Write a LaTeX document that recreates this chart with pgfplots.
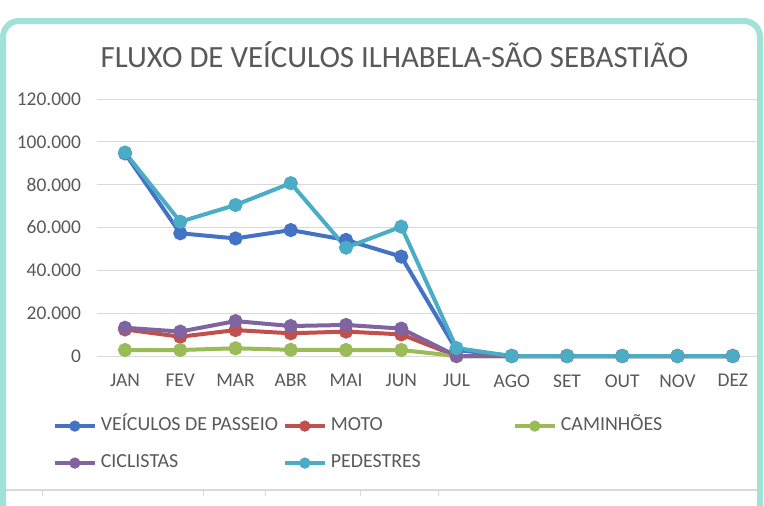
\documentclass[border=0pt]{standalone}
\usepackage{fontspec}
\setmainfont{Carlito}
\usepackage{pgfplots}
\pgfplotsset{compat=1.18}
\definecolor{cVei}{HTML}{4472C4}
\definecolor{cMoto}{HTML}{C0504D}
\definecolor{cCam}{HTML}{9BBB59}
\definecolor{cCic}{HTML}{8064A2}
\definecolor{cPed}{HTML}{4BACC6}
\definecolor{txt}{HTML}{595959}
\definecolor{frame}{RGB}{160,226,216}

\begin{document}
\begin{tikzpicture}
\useasboundingbox (0,0) rectangle (764bp,-506bp);
\clip (0,0) rectangle (764bp,-506bp);
\fill[white] (0,0) rectangle (764bp,-506bp);

\node[text=txt, font=\fontsize{31}{33}\selectfont] at (394.5bp,-55bp) {FLUXO DE VEÍCULOS ILHABELA-SÃO SEBASTIÃO};

\begin{axis}[
  at={(97.4bp,-356bp)}, anchor=south west,
  scale only axis, width=663bp, height=257bp,
  xmin=-0.5, xmax=11.5, ymin=0, ymax=120000,
  scaled y ticks=false,
  xtick={0,...,11},
  xticklabels={JAN,FEV,MAR,ABR,MAI,JUN,JUL,AGO,SET,OUT,NOV,DEZ},
  ytick={0,20000,40000,60000,80000,100000,120000},
  yticklabels={0,20.000,40.000,60.000,80.000,100.000,120.000},
  axis line style={draw=none},
  major tick style={draw=none},
  ymajorgrids, grid style={color=black!15, line width=0.8bp},
  tick label style={text=txt, font=\fontsize{19.5}{21}\selectfont},
  yticklabel style={xshift=-13bp},
  xticklabel style={yshift=-15bp},
  clip=false,
  every axis plot/.append style={line width=4bp, mark=*, mark size=5bp, mark options={solid}},
  legend image code/.code={\draw[mark repeat=2,mark phase=2,#1,mark size=3.5bp] plot coordinates {(0bp,0bp) (20bp,0bp) (40bp,0bp)};},
  legend columns=3,
  legend cell align=left,
  legend style={draw=none, fill=none, at={(-0.072,-0.235)}, anchor=north west,
    font=\fontsize{20}{22}\selectfont, text=txt,
    nodes={inner sep=0pt, text height=12bp, text depth=3bp},
    row sep=22bp,
    /tikz/every odd column/.append style={column sep=4bp}},
]
\addplot[color=cVei] coordinates {(0,94600) (1,57300) (2,54900) (3,58800) (4,54200) (5,46400) (6,2800) (7,0) (8,0) (9,0) (10,0) (11,0)};
\addlegendentry{\makebox[182bp][l]{VEÍCULOS DE PASSEIO}}
\addplot[color=cMoto] coordinates {(0,12400) (1,9000) (2,12100) (3,10600) (4,11400) (5,10100) (6,0) (7,0) (8,0) (9,0) (10,0) (11,0)};
\addlegendentry{\makebox[182bp][l]{MOTO}}
\addplot[color=cCam] coordinates {(0,2800) (1,2800) (2,3600) (3,2900) (4,2800) (5,2800) (6,0) (7,0) (8,0) (9,0) (10,0) (11,0)};
\addlegendentry{CAMINHÕES}
\addplot[color=cCic] coordinates {(0,13200) (1,11400) (2,16300) (3,14000) (4,14500) (5,12800) (6,0) (7,0) (8,0) (9,0) (10,0) (11,0)};
\addlegendentry{CICLISTAS}
\addplot[color=cPed] coordinates {(0,95000) (1,62700) (2,70500) (3,80700) (4,50600) (5,60400) (6,3700) (7,0) (8,0) (9,0) (10,0) (11,0)};
\addlegendentry{PEDESTRES}
\end{axis}

\draw[black!15, line width=1.2bp] (6bp,-490bp) -- (757bp,-490bp);
\foreach \tx in {42,203,265,360,438} \draw[black!15, line width=1bp] (\tx bp,-490bp) -- (\tx bp,-496bp);
\draw[frame, line width=6bp, rounded corners=16bp] (3bp,-21bp) rectangle (760bp,-560bp);
\end{tikzpicture}
\end{document}
